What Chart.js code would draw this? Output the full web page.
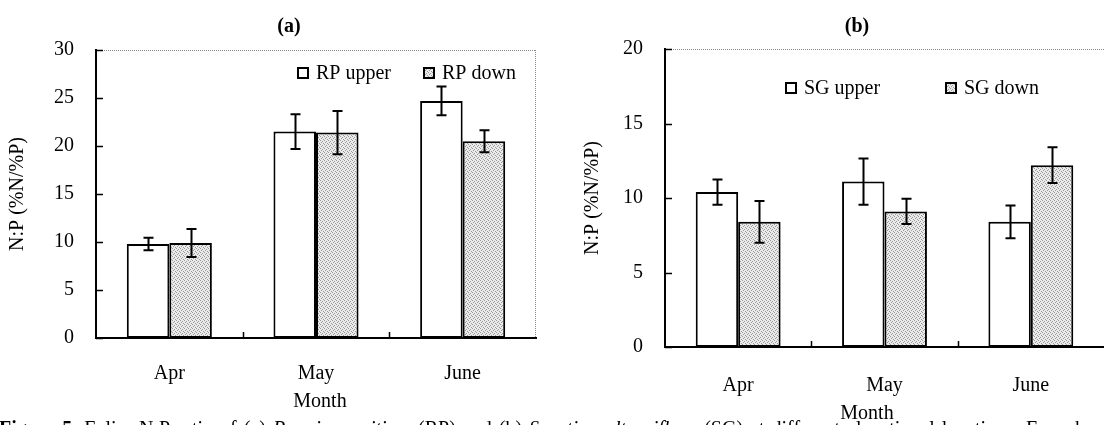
<!DOCTYPE html>
<html><head><meta charset="utf-8">
<script src="https://cdn.jsdelivr.net/npm/chart.js@4.4.1/dist/chart.umd.min.js"></script>
<style>
html,body{margin:0;padding:0;background:#fff;width:1104px;height:425px;overflow:hidden;position:relative;}
#wa{position:absolute;left:0;top:0;width:550px;height:425px;}
#wb{position:absolute;left:550px;top:0;width:554px;height:425px;}
#cap{position:absolute;left:-1px;top:416px;font-family:"Liberation Serif",serif;font-size:20px;line-height:24px;white-space:nowrap;color:#000;word-spacing:2px;}
</style></head><body>
<div id="wa"><canvas id="ca" width="550" height="425"></canvas></div>
<div id="wb"><canvas id="cb" width="554" height="425"></canvas></div>
<div id="cap"><b>Figure 5.</b> Foliar N:P ratio of (a) <i>Ruppia maritima</i> (RP) and (b) <i>Spartina alterniflora</i> (SG) at different elevational locations. Error bars indicate standard errors.</div>
<script>
// ---- data ----
const months = ['Apr', 'May', 'June'];
const rpUpper = [9.8, 21.5, 24.7];
const rpUpperErr = [0.65, 1.8, 1.5];
const rpDown = [9.9, 21.4, 20.5];
const rpDownErr = [1.45, 2.25, 1.15];
const sgUpper = [10.4, 11.1, 8.4];
const sgUpperErr = [0.85, 1.55, 1.1];
const sgDown = [8.4, 9.1, 12.2];
const sgDownErr = [1.4, 0.85, 1.2];
const ticksA = [0, 5, 10, 15, 20, 25, 30];
const ticksB = [0, 5, 10, 15, 20];

const FONT = '"Liberation Serif", "Times New Roman", serif';

function makePattern() {
  const c = document.createElement('canvas'); c.width = 4; c.height = 4;
  const g = c.getContext('2d');
  g.fillStyle = '#ebebeb'; g.fillRect(0, 0, 4, 4);
  g.fillStyle = '#999999';
  [[0,0],[2,1],[1,2],[3,3]].forEach(([x,y]) => g.fillRect(x, y, 1, 1));
  return g.createPattern(c, 'repeat');
}
const grayFill = makePattern();

const errorBars = {
  id: 'errorBars',
  afterDatasetsDraw(chart) {
    const {ctx} = chart; const y = chart.scales.y;
    ctx.save(); ctx.strokeStyle = '#000'; ctx.lineWidth = 2;
    chart.data.datasets.forEach((ds, i) => {
      const meta = chart.getDatasetMeta(i);
      meta.data.forEach((el, j) => {
        const v = ds.data[j], e = ds.errors[j];
        const t = y.getPixelForValue(v + e), b = y.getPixelForValue(v - e);
        const x = Math.round(el.x) + 0.5;
        ctx.beginPath();
        ctx.moveTo(x, t); ctx.lineTo(x, b);
        ctx.moveTo(x - 5, t); ctx.lineTo(x + 5, t);
        ctx.moveTo(x - 5, b); ctx.lineTo(x + 5, b);
        ctx.stroke();
      });
    });
    ctx.restore();
  }
};

const frame = {
  id: 'frame',
  afterDraw(chart, args, o) {
    const {ctx, chartArea: a, scales} = chart;
    ctx.save();
    ctx.strokeStyle = '#888'; ctx.lineWidth = 1; ctx.setLineDash([1, 1]);
    ctx.beginPath();
    ctx.moveTo(a.left, a.top + 0.5); ctx.lineTo(a.right, a.top + 0.5);
    if (o.right) { ctx.moveTo(a.right - 0.5, a.top); ctx.lineTo(a.right - 0.5, a.bottom); }
    ctx.stroke();
    ctx.setLineDash([]);
    ctx.strokeStyle = '#000'; ctx.lineWidth = 1.5;
    ctx.beginPath();
    scales.y.ticks.forEach(t => {
      const yy = Math.round(scales.y.getPixelForValue(t.value)) + 0.5;
      ctx.moveTo(a.left, yy); ctx.lineTo(a.left + 7, yy);
    });
    const n = scales.x.ticks.length;
    for (let i = 1; i < n; i++) {
      const xx = Math.round((scales.x.getPixelForValue(i - 1) + scales.x.getPixelForValue(i)) / 2) + 0.5;
      ctx.moveTo(xx, a.bottom); ctx.lineTo(xx, a.bottom - 6);
    }
    ctx.stroke();
    // legend
    ctx.font = '20px ' + FONT; ctx.textBaseline = 'middle'; ctx.textAlign = 'left';
    chart.data.datasets.forEach((ds, i) => {
      const p = o.legend[i];
      ctx.fillStyle = ds.backgroundColor; ctx.fillRect(p.x, p.y - 6, 12, 12);
      ctx.lineWidth = 2; ctx.strokeStyle = '#000'; ctx.strokeRect(p.x + 1, p.y - 5, 10, 10);
      ctx.fillStyle = '#000'; ctx.fillText(ds.label, p.x + 19, p.y + 1);
    });
    // panel title and x-axis title
    ctx.textAlign = 'center';
    ctx.font = 'bold 20px ' + FONT; ctx.fillText(o.title, o.titleX, 27);
    ctx.font = '20px ' + FONT; ctx.fillText(o.xTitle, o.xTitleX, o.xTitleY);
    ctx.restore();
  }
};

function build(id, labels, ds, ticks, maxV, yWidth, top, xHeight, padRight, frameOpts) {
  return new Chart(document.getElementById(id), {
    type: 'bar',
    data: {labels, datasets: ds.map(d => ({
      label: d.label, data: d.data, errors: d.err,
      backgroundColor: d.fill, borderColor: '#000', borderWidth: 2, borderSkipped: false,
      categoryPercentage: 0.58, barPercentage: 1.0
    }))},
    options: {
      responsive: false, animation: false, devicePixelRatio: 1,
      layout: {padding: {top: top, left: 0, right: padRight, bottom: 0}},
      plugins: {legend: {display: false}, tooltip: {enabled: false}, title: {display: false}, frame: frameOpts},
      scales: {
        x: {
          grid: {display: false, drawTicks: false},
          border: {display: true, color: '#000', width: 2},
          ticks: {color: '#000', font: {family: FONT, size: 20}, padding: frameOpts.xPad},
          afterFit: s => { s.height = xHeight; }
        },
        y: {
          min: 0, max: maxV,
          afterBuildTicks: s => { s.ticks = ticks.map(v => ({value: v})); },
          grid: {display: false, drawTicks: false},
          border: {display: true, color: '#000', width: 2},
          ticks: {color: '#000', font: {family: FONT, size: 20}, padding: 22},
          title: {display: true, text: 'N:P (%N/%P)', color: '#000', font: {family: FONT, size: 20}, padding: {top: frameOpts.yTitlePad, bottom: 0}},
          afterFit: s => { s.width = yWidth; }
        }
      }
    },
    plugins: [errorBars, frame]
  });
}

build('ca', months, [
  {label: 'RP upper', data: rpUpper, err: rpUpperErr, fill: '#ffffff'},
  {label: 'RP down', data: rpDown, err: rpDownErr, fill: grayFill}
], ticksA, 30, 96, 50, 87, 14,
  {right: true, legend: [{x: 297, y: 73}, {x: 423, y: 73}], title: '(a)', titleX: 289,
   xTitle: 'Month', xTitleX: 320, xTitleY: 402, xPad: 24, yTitlePad: 6});

build('cb', months, [
  {label: 'SG upper', data: sgUpper, err: sgUpperErr, fill: '#ffffff'},
  {label: 'SG down', data: sgDown, err: sgDownErr, fill: grayFill}
], ticksB, 20, 115, 49, 78, 0,
  {right: false, legend: [{x: 235, y: 88}, {x: 395, y: 88}], title: '(b)', titleX: 307,
   xTitle: 'Month', xTitleX: 317, xTitleY: 414, xPad: 27, yTitlePad: 31});
</script>
</body></html>
